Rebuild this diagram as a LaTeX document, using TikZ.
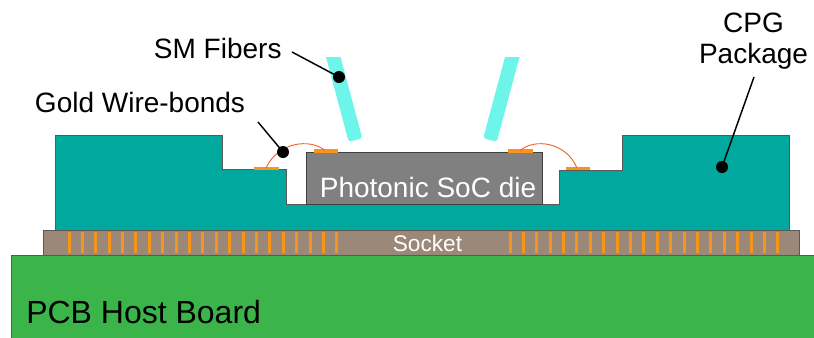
\documentclass[tikz,border=0pt]{standalone}
\usepackage{fontspec}
\setmainfont{Liberation Sans}
\begin{document}
\definecolor{pcbgreen}{RGB}{59,181,74}
\definecolor{sockbrown}{RGB}{155,136,120}
\definecolor{pkgteal}{RGB}{0,168,157}
\definecolor{diegray}{RGB}{128,128,128}
\definecolor{pinorange}{RGB}{247,148,29}
\definecolor{wirered}{RGB}{242,98,50}
\definecolor{fibercyan}{RGB}{108,245,232}
\begin{tikzpicture}[x=0.75pt,y=-0.75pt,
  outline/.style={draw=black!65,line width=0.6pt},
  pin/.style={draw=pinorange,line width=2.25pt},
  pad/.style={fill=pinorange},
  bondwire/.style={draw=wirered,line width=0.7pt},
  fiber/.style={fill=fibercyan},
  leader/.style={draw=black,line width=1.1pt},
  dotmark/.style={fill=black},
  lbl/.style={inner sep=0pt,font=\fontsize{21}{24}\selectfont},
]
\useasboundingbox (0,0) rectangle (814,337);
\clip (0,0) rectangle (814,337);

% host board
\fill[pcbgreen] (11,255) rectangle (830,350);
\draw[outline] (11,350) -- (11,255) -- (830,255);

% socket with its contact pins
\fill[sockbrown,outline] (43,230) rectangle (799,255);
\foreach \i in {0,...,20} {
  \pgfmathsetmacro{\pa}{int(69+13.4*\i)+0.5}
  \pgfmathsetmacro{\pb}{int(510+13.4*\i)+0.5}
  \draw[pin] (\pa,231.5) -- (\pa,252.5);
  \draw[pin] (\pb,231.5) -- (\pb,252.5);
}
\node[inner sep=0pt,text=white,font=\fontsize{17}{20}\selectfont,anchor=base]
  (socket) at (427.5,251) {Socket};

% stepped package body
\fill[pkgteal,outline] (55,230) -- (55,135) -- (222,135) -- (222,169) -- (286,169)
  -- (286,204) -- (559,204) -- (559,170) -- (622,170) -- (622,135) -- (789,135)
  -- (789,230) -- cycle;

% die in the cavity
\fill[diegray,draw=black!75,line width=0.6pt] (306,152) rectangle (542,204);
\node[lbl,text=white,anchor=base] (die) at (428,197) {Photonic SoC die};

% bond pads
\fill[pad] (254,167) rectangle (279,170);
\fill[pad] (314,149) rectangle (338,152.5);
\fill[pad] (508,149) rectangle (533,152.5);
\fill[pad] (566,167) rectangle (590,170);

% bond wires
\draw[bondwire] (266,168) .. controls (278,142) and (310,138) .. (325,150.5);
\draw[bondwire] (520,150.5) .. controls (535,138) and (566,142) .. (577,168);

% single-mode fibers
\fill[fiber] (326,57) -- (340.5,57) [rounded corners=2pt] -- (362.3,138.2)
  -- (348.7,141.8) [sharp corners] -- cycle;
\fill[fiber] (505,57) -- (519.5,57) [rounded corners=2pt] -- (496.8,141.8)
  -- (483.2,138.2) [sharp corners] -- cycle;

% labels
\node[lbl,anchor=base west] (sm) at (153.7,58) {SM Fibers};
\node[lbl,anchor=base west] (gold) at (34.7,112) {Gold Wire-bonds};
\node[lbl,anchor=base] (cpg) at (753.5,32) {CPG};
\node[lbl,anchor=base] (package) at (753.5,63) {Package};
\node[inner sep=0pt,font=\fontsize{24}{27}\selectfont,anchor=base west]
  (pcb) at (26,323) {PCB Host Board};

% leader lines with end dots
\coordinate (smdot) at (339,77);
\coordinate (golddot) at (283,152);
\coordinate (pkgdot) at (722,167);
\coordinate (smstart) at (292,52);
\coordinate (goldstart) at (258,122);
\coordinate (pkgstart) at (754,77);
\draw[leader] (smstart) -- (smdot);
\draw[leader] (goldstart) -- (golddot);
\draw[leader] (pkgstart) -- (pkgdot);
\fill[dotmark] (smdot) circle (6);
\fill[dotmark] (golddot) circle (6);
\fill[dotmark] (pkgdot) circle (6);
\end{tikzpicture}
\end{document}
